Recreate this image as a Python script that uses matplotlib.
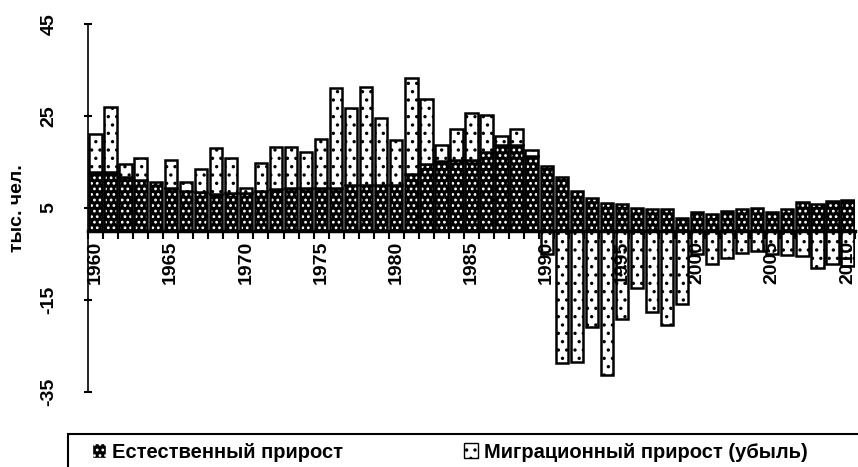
import matplotlib
matplotlib.use('Agg')
import matplotlib.pyplot as plt
from matplotlib.patches import Patch, Rectangle
import numpy as np

plt.rcParams['font.family'] = ['Liberation Sans', 'DejaVu Sans']
plt.rcParams['hatch.linewidth'] = 1.2

# Годы
years = list(range(1960, 2011))

# Естественный прирост, тыс. чел.
natural = [12.8, 12.8, 11.7, 11.1, 10.6, 9.4, 8.8, 8.5, 8.0, 8.3,
           8.3, 8.8, 9.1, 9.4, 9.4, 9.4, 9.4, 10.0, 10.1, 10.1,
           10.1, 12.3, 14.6, 15.2, 15.4, 15.4, 17.2, 18.8, 18.6, 16.3,
           14.1, 11.7, 8.8, 7.1, 6.0, 5.8, 4.9, 4.7, 4.7, 2.9,
           4.1, 3.8, 4.3, 4.8, 5.1, 4.1, 4.8, 6.2, 5.9, 6.5,
           6.7]

# Миграционный прирост (убыль), тыс. чел.
migration = [8.2, 14.2, 2.8, 4.7, 0.0, 6.0, 1.8, 4.9, 10.0, 7.5,
             1.0, 6.0, 9.2, 8.9, 7.8, 10.5, 21.6, 16.7, 21.3, 14.4,
             9.6, 20.9, 14.0, 3.6, 6.7, 10.2, 8.0, 1.8, 3.5, 1.2,
             -4.9, -28.8, -28.4, -20.8, -31.3, -19.2, -12.3, -17.6, -20.4, -15.8,
             -5.0, -7.2, -5.9, -4.7, -4.3, -5.1, -5.2, -5.5, -8.0, -7.2,
             -7.6]

tick_years = [1960, 1965, 1970, 1975, 1980, 1985, 1990, 1995, 2000, 2005, 2010]


def main():
    fig = plt.figure(figsize=(8.58, 4.67), dpi=100)
    ax = fig.add_axes([88 / 858, 1 - 392 / 467, 767 / 858, 368 / 467])

    x = np.arange(len(years))
    nat = np.array(natural)
    mig = np.array(migration)
    mig_bottom = np.where(mig > 0, nat, 0)

    # естественный прирост: черный с белыми точками
    ax.bar(x, nat, width=0.82, color='black', edgecolor='white', hatch='...', linewidth=0)
    ax.bar(x, nat, width=0.82, fill=False, edgecolor='black', linewidth=1.8)
    # миграционный: белый с точками
    ax.bar(x, mig, bottom=mig_bottom, width=0.82, color='white', edgecolor='black',
           hatch='..', linewidth=0)
    ax.bar(x, mig, bottom=mig_bottom, width=0.82, fill=False, edgecolor='black', linewidth=1.8)

    ax.set_xlim(-0.5, len(years) - 0.5)
    ax.set_ylim(-35, 45)
    ax.set_yticks([-35, -15, 5, 25, 45])
    ax.set_yticklabels(['-35', '-15', '5', '25', '45'], rotation=90, va='center',
                       fontsize=14, fontweight='bold')

    ax.spines['top'].set_visible(False)
    ax.spines['right'].set_visible(False)
    ax.spines['bottom'].set_position(('data', 0))
    ax.spines['bottom'].set_linewidth(2.5)
    ax.spines['left'].set_linewidth(1.2)

    ax.set_xticks([years.index(y) for y in tick_years])
    ax.set_xticklabels([str(y) for y in tick_years], rotation=90, fontsize=14,
                       fontweight='bold')
    ax.set_xticks(np.arange(len(years) + 1) - 0.5, minor=True)
    ax.tick_params(axis='x', which='major', length=0, pad=7)
    ax.tick_params(axis='x', which='minor', length=6, width=1.5, direction='out')
    ax.tick_params(axis='y', length=6, width=1.5, direction='inout', pad=19)

    fig.text(18 / 858, 1 - 208 / 467, 'тыс. чел.', rotation=90, ha='center', va='center',
             fontsize=14, fontweight='bold')

    # рамка легенды (обрезана краем рисунка)
    fig.add_artist(Rectangle((68 / 858, -0.2), 1.0, 0.2 + (1 - 434 / 467),
                             transform=fig.transFigure, fill=False,
                             edgecolor='black', linewidth=1.5))

    handles = [
        Patch(facecolor='black', edgecolor='white', hatch='...', label='Естественный прирост'),
        Patch(facecolor='white', edgecolor='black', hatch='..', label='Миграционный прирост (убыль)'),
    ]
    fig.legend(handles=handles, ncol=2, loc='center left',
               bbox_to_anchor=(92 / 858, 1 - 452 / 467), frameon=False,
               prop={'size': 14.5, 'weight': 'bold'},
               handlelength=0.7, handleheight=0.7, handletextpad=0.3,
               columnspacing=6.0, borderaxespad=0, borderpad=0)

    fig.savefig('out.png', dpi=100)


if __name__ == '__main__':
    main()
